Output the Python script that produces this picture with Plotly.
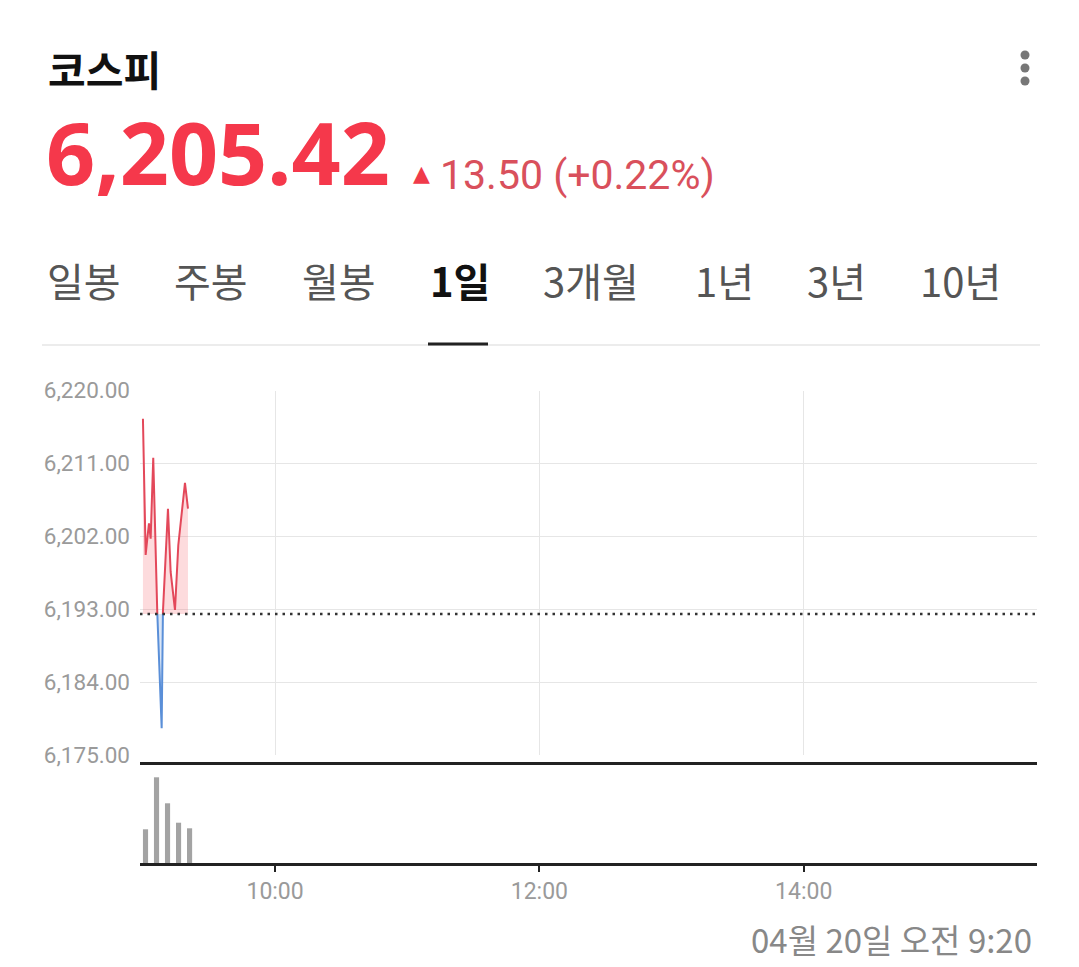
import plotly.graph_objects as go
import pandas as pd

W, H = 1079, 967
PAGE_MARGIN = 8  # the page body margin shifts the figure by this many pixels
DAY = "2026-04-20"

# ---- data ----
tick_times = ["09:00:00", "09:01:14", "09:02:08", "09:02:44", "09:03:30", "09:04:41",
              "09:06:30", "09:08:30", "09:09:05", "09:11:22", "09:12:35", "09:14:33",
              "09:16:03", "09:19:05", "09:20:27"]
prices = [6216.5, 6199.7, 6202.1, 6203.6, 6201.7, 6211.7,
          6192.7, 6178.3, 6192.7, 6205.4, 6197.6, 6192.9,
          6200.9, 6208.6, 6205.42]
prev_close = 6192.4

vol_times = ["09:00", "09:05", "09:10", "09:15", "09:20"]
volumes = [3370, 8570, 5970, 4030, 3470]

y_ticks = [6175, 6184, 6193, 6202, 6211, 6220]
x_ticks = ["10:00", "12:00", "14:00"]

tabs = ["일봉", "주봉", "월봉", "1일", "3개월", "1년", "3년", "10년"]
tab_x = [45, 172, 300, 428, 541, 693, 805, 918]
active_tab = "1일"

RED = "#e3485a"
BLUE = "#5a8fd8"
GRID = "#e6e6e6"
LABEL = "#9a9a9a"

FW, FH = W - PAGE_MARGIN, H - PAGE_MARGIN


def px(x):
    return (x - PAGE_MARGIN) / FW


def py(y):
    return 1 - (y - PAGE_MARGIN) / FH


def t(s):
    return pd.Timestamp(f"{DAY} {s}")


# insert the points where the line crosses the previous close
xs, ys = [], []
for i, (s, p) in enumerate(zip(tick_times, prices)):
    if i > 0:
        t0, p0 = t(tick_times[i - 1]), prices[i - 1]
        if (p0 - prev_close) * (p - prev_close) < 0:
            frac = (prev_close - p0) / (p - p0)
            xs.append(t0 + (t(s) - t0) * frac)
            ys.append(prev_close)
    xs.append(t(s))
    ys.append(p)

above = [v if v >= prev_close else None for v in ys]
below = [v if v <= prev_close else None for v in ys]
above_fill = [max(v, prev_close) for v in ys]
below_fill = [min(v, prev_close) for v in ys]
base = [prev_close] * len(xs)

fig = go.Figure()

# fills
fig.add_trace(go.Scatter(x=xs, y=base, mode="lines", line=dict(width=0), hoverinfo="skip"))
fig.add_trace(go.Scatter(x=xs, y=above_fill, mode="lines", line=dict(width=0),
                         fill="tonexty", fillcolor="rgba(248,90,100,0.22)", hoverinfo="skip"))
fig.add_trace(go.Scatter(x=xs, y=base, mode="lines", line=dict(width=0), hoverinfo="skip"))
fig.add_trace(go.Scatter(x=xs, y=below_fill, mode="lines", line=dict(width=0),
                         fill="tonexty", fillcolor="rgba(90,143,216,0.22)", hoverinfo="skip"))
# lines
fig.add_trace(go.Scatter(x=xs, y=above, mode="lines", line=dict(color=RED, width=2),
                         connectgaps=False))
fig.add_trace(go.Scatter(x=xs, y=below, mode="lines", line=dict(color=BLUE, width=2),
                         connectgaps=False))

# volume
fig.add_trace(go.Bar(x=[t(v) for v in vol_times], y=volumes, xaxis="x2", yaxis="y2",
                     marker=dict(color="#a3a3a3", line=dict(width=0)),
                     width=140000, offset=0))

x_range = [t("08:58:40"), t("15:45:56")]
x_dom = [px(140), px(1037)]

fig.update_layout(
    width=FW, height=FH,
    margin=dict(l=0, r=0, t=0, b=0, autoexpand=False),
    paper_bgcolor="white", plot_bgcolor="white",
    showlegend=False,
    font=dict(family="Roboto, Noto Sans CJK KR", color=LABEL),
    xaxis=dict(domain=x_dom, range=x_range, anchor="y", type="date",
               tickvals=[t(v) for v in x_ticks], showticklabels=False,
               showgrid=True, gridcolor=GRID, gridwidth=1, zeroline=False, showline=False),
    yaxis=dict(domain=[py(755), py(390.5)], range=[6175, 6220], anchor="x",
               tickvals=y_ticks, tickformat=",.2f", showgrid=True, gridcolor=GRID,
               gridwidth=1, zeroline=False, showline=False, ticks="",
               tickfont=dict(size=22.5, color=LABEL), ticklabelstandoff=9),
    xaxis2=dict(domain=x_dom, range=x_range, matches="x", anchor="y2", type="date",
                tickvals=[t(v) for v in x_ticks], ticktext=x_ticks,
                showgrid=False, zeroline=False, showline=True, linecolor="#222",
                linewidth=2.5, mirror=True, ticks="outside", ticklen=6, tickwidth=2,
                tickcolor="#222", tickfont=dict(size=23, color=LABEL), ticklabelstandoff=0),
    yaxis2=dict(domain=[py(863), py(765)], range=[0, 9800], anchor="x2",
                showticklabels=False, showgrid=False, zeroline=False, showline=False),
)

# previous close, dotted
fig.add_shape(type="line", xref="x domain", yref="y", x0=0, x1=1, y0=prev_close, y1=prev_close,
              line=dict(color="#333", width=2.5, dash="2.5px,5px"))

# header
fig.add_annotation(text="<b>코스피</b>", x=px(46), y=py(68), xref="paper", yref="paper",
                   xanchor="left", yanchor="middle", showarrow=False, height=48,
                   font=dict(family="Noto Sans CJK KR", size=41, color="#111"))
fig.add_annotation(text="<b>6,205.42</b>", x=px(44), y=py(151), xref="paper", yref="paper",
                   xanchor="left", yanchor="middle", showarrow=False,
                   font=dict(family="Noto Sans", size=86, color="#f5384b"))
fig.add_annotation(text="▲", x=px(411), y=py(173), xref="paper", yref="paper",
                   xanchor="left", yanchor="middle", showarrow=False,
                   font=dict(family="DejaVu Sans", size=22, color="#f03a4a"))
fig.add_annotation(text="13.50 (+0.22%)", x=px(438), y=py(175), xref="paper", yref="paper",
                   xanchor="left", yanchor="middle", showarrow=False,
                   font=dict(family="Roboto", size=41, color="#d9505c"))

# kebab menu
for cy in [55, 68, 81]:
    fig.add_shape(type="circle", xref="paper", yref="paper",
                  x0=px(1020.5), x1=px(1029.5), y0=py(cy + 4.5), y1=py(cy - 4.5),
                  fillcolor="#777", line=dict(width=0))

# tabs
for name, x in zip(tabs, tab_x):
    bold = name == active_tab
    fig.add_annotation(text=f"<b>{name}</b>" if bold else name, x=px(x), y=py(280),
                       xref="paper", yref="paper", xanchor="left", yanchor="middle",
                       showarrow=False,
                       font=dict(family="Noto Sans CJK KR", size=40,
                                 color="#111" if bold else "#555"))
fig.add_shape(type="line", xref="paper", yref="paper", x0=px(42), x1=px(1040),
              y0=py(345), y1=py(345), line=dict(color="#ececec", width=2))
fig.add_shape(type="line", xref="paper", yref="paper", x0=px(428), x1=px(488),
              y0=py(344), y1=py(344), line=dict(color="#222", width=3))

# timestamp
fig.add_annotation(text="04월 20일 오전 9:20", x=px(1034), y=py(965), xref="paper", yref="paper",
                   xanchor="right", yanchor="bottom", showarrow=False,
                   font=dict(family="Noto Sans CJK KR", size=33, color="#888"))

fig.write_html("out.html")
